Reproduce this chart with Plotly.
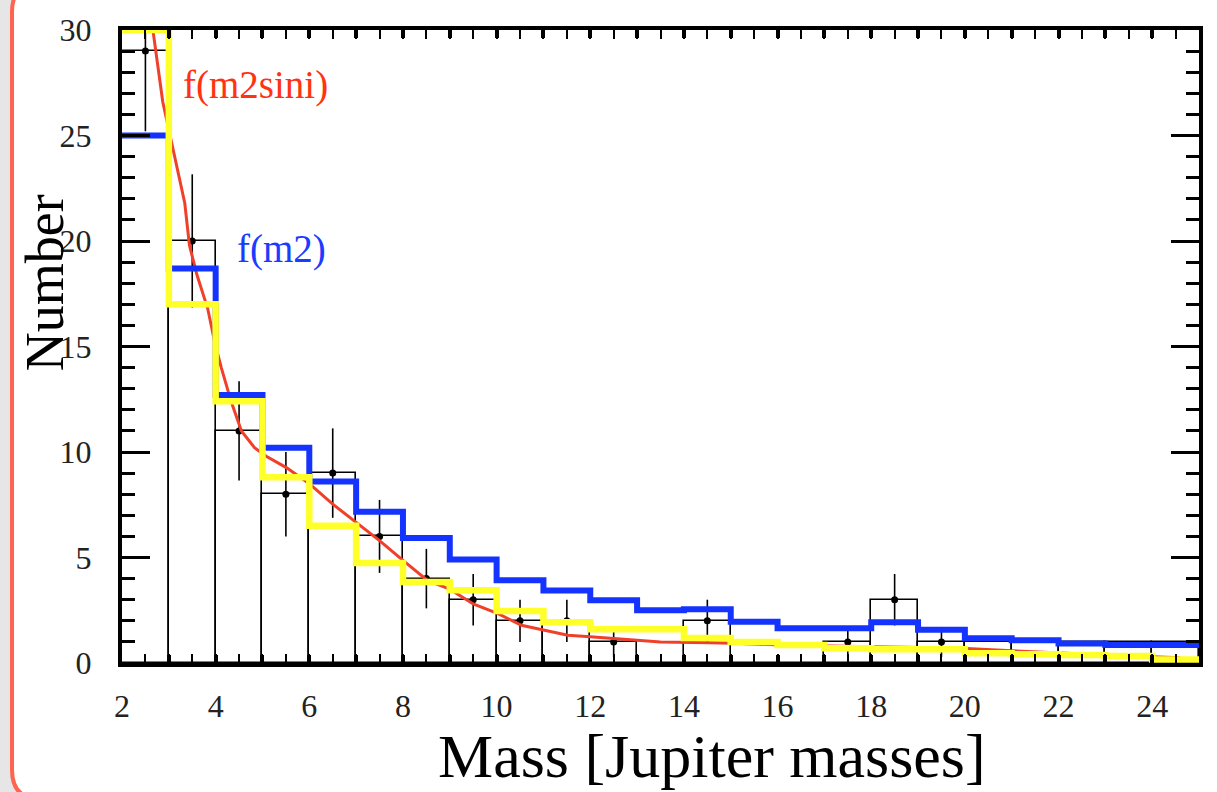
import plotly.graph_objects as go

# ---- data ----
bin_edges = list(range(2, 26))  # 2..25, bin width 1
data_counts = [29, 20, 11, 8, 9, 6, 4, 3, 2, 2, 1, 0, 2, 0, 0, 1, 3, 1, 1, 1, 1, 1, 1]
data_errors = [3.8, 3.16, 2.35, 2.0, 2.12, 1.73, 1.41, 1.22, 1.0, 1.0, 0.71, None, 1.0,
               None, None, 0.71, 1.22, 0.71, None, None, None, None, None]
f_m2 = [25.0, 18.7, 12.7, 10.2, 8.6, 7.17, 5.92, 4.9, 3.92, 3.44, 2.97, 2.5, 2.55,
        1.95, 1.65, 1.65, 1.93, 1.57, 1.17, 1.08, 0.93, 0.85, 0.85]
f_m2sini = [30.0, 17.0, 12.4, 8.8, 6.5, 4.74, 3.84, 3.45, 2.46, 1.93, 1.6, 1.6, 1.18,
            1.0, 0.85, 0.7, 0.65, 0.65, 0.46, 0.42, 0.38, 0.33, 0.17]
fit_x = [2.66, 2.87, 3.34, 3.44, 3.6, 3.83, 3.98, 4.12, 4.33, 4.55, 4.83, 5.08, 5.51, 6.0,
         6.5, 7.0, 7.5, 8.0, 8.53, 9.0, 9.5, 10.03, 10.53, 11.0, 11.52, 12.0, 12.52, 13.0,
         13.5, 14.55, 15.04, 16.05, 17.0, 18.0, 19.04, 20.04, 21.0, 22.0, 23.0, 24.0, 24.6]
fit_y = [30.0, 26.6, 21.8, 19.8, 18.4, 16.8, 15.2, 14.0, 12.4, 11.0, 10.2, 9.8, 9.26, 8.5,
         7.53, 6.67, 5.8, 4.86, 3.9, 3.5, 2.8, 2.34, 1.79, 1.56, 1.32, 1.24, 1.16, 1.08,
         1.0, 0.96, 0.94, 0.85, 0.8, 0.77, 0.74, 0.69, 0.58, 0.47, 0.38, 0.3, 0.25]
x_tick_vals = list(range(2, 26))
x_tick_text = [str(v) if v % 2 == 0 else "" for v in x_tick_vals]
y_tick_vals = [0, 5, 10, 15, 20, 25, 30]

centers = [e + 0.5 for e in bin_edges[:-1]]
FONT = "Liberation Serif"

fig = go.Figure()

# black data histogram (outlined boxes)
fig.add_trace(go.Bar(x=centers, y=data_counts, width=1.0,
                     marker=dict(color="rgba(0,0,0,0)", line=dict(color="black", width=1.6)),
                     showlegend=False))
# data points with error bars
ex = [c for c, e in zip(centers, data_errors) if e is not None]
ey = [v for v, e in zip(data_counts, data_errors) if e is not None]
ee = [e for e in data_errors if e is not None]
fig.add_trace(go.Scatter(x=ex, y=ey, mode="markers",
                         marker=dict(color="black", size=7),
                         error_y=dict(type="data", array=ee, width=0, thickness=1.6, color="black"),
                         showlegend=False))
# red fit curve
fig.add_trace(go.Scatter(x=fit_x, y=fit_y, mode="lines",
                         line=dict(color="#f0402a", width=3), showlegend=False))
# blue f(m2)
fig.add_trace(go.Scatter(x=bin_edges, y=f_m2 + [f_m2[-1]], mode="lines",
                         line=dict(color="#1433ff", width=6, shape="hv"), showlegend=False))
# yellow f(m2sini)
fig.add_trace(go.Scatter(x=bin_edges, y=f_m2sini + [f_m2sini[-1]], mode="lines",
                         line=dict(color="#ffff2a", width=6.5, shape="hv"), showlegend=False))

# geometry helpers for the rounded frame (layout decoration)
L, R, T, B = 122, 18, 28, 129
W, H = 1217, 792
pw, ph = W - L - R, H - T - B
def px(X):
    return (X - L) / pw
def py(Y):
    return (H - B - Y) / ph
x0, x1, yt, yb, r = 12, 1245, -20, 800, 30
path = (f"M {px(x0 + r)},{py(yt)} L {px(x1)},{py(yt)} L {px(x1)},{py(yb)} "
        f"L {px(x0 + r)},{py(yb)} Q {px(x0)},{py(yb)} {px(x0)},{py(yb - r)} "
        f"L {px(x0)},{py(yt + r)} Q {px(x0)},{py(yt)} {px(x0 + r)},{py(yt)} Z")

fig.update_layout(
    width=W, height=H,
    margin=dict(l=L, r=R, t=T, b=B),
    paper_bgcolor="#e6e6e6",
    plot_bgcolor="rgba(0,0,0,0)",
    bargap=0,
    font=dict(family=FONT, color="#222"),
    shapes=[dict(type="path", xref="paper", yref="paper", path=path,
                 fillcolor="white", line=dict(color="#ff6450", width=4), layer="below")],
    xaxis=dict(range=[2, 25], showline=True, linewidth=4, linecolor="black", mirror="ticks",
               ticks="inside", tickvals=x_tick_vals, ticktext=x_tick_text, ticklen=8,
               tickwidth=4, tickcolor="black", showgrid=False, zeroline=False,
               layer="above traces", tickfont=dict(size=32, family=FONT, color="#222"),
               ticklabelstandoff=12,
               minor=dict(ticks="inside", dtick=0.5, tick0=2, ticklen=9, tickwidth=1.5,
                          tickcolor="black", showgrid=False)),
    xaxis3=dict(overlaying="x", anchor="y", range=[2, 25], tickvals=[5, 10, 15, 20, 25],
                ticks="inside", ticklen=12, tickwidth=9, tickcolor="black", mirror="ticks",
                showticklabels=False, showline=False, showgrid=False, zeroline=False,
                layer="above traces"),
    yaxis=dict(range=[0, 30], showline=True, linewidth=4, linecolor="black", mirror="ticks",
               ticks="inside", tickvals=y_tick_vals, ticklen=28, tickwidth=2.5,
               tickcolor="black", showgrid=False, zeroline=False, layer="above traces",
               tickfont=dict(size=32, family=FONT, color="#222"), ticklabelstandoff=20,
               minor=dict(ticks="inside", dtick=1, tick0=0, ticklen=13, tickwidth=2.5,
                          tickcolor="black", showgrid=False)),
    annotations=[
        dict(text="f(m2sini)", x=3.27, y=27.4, xref="x", yref="y", xanchor="left",
             yanchor="middle", showarrow=False, font=dict(size=39, family=FONT, color="#ff3311")),
        dict(text="f(m2)", x=4.42, y=19.6, xref="x", yref="y", xanchor="left",
             yanchor="middle", showarrow=False, font=dict(size=39, family=FONT, color="#1a3cff")),
        dict(text="Mass [Jupiter masses]", x=px(712), y=py(792), xref="paper", yref="paper",
             xanchor="center", yanchor="bottom", showarrow=False,
             font=dict(size=62, family=FONT, color="black")),
        dict(text="Number", x=px(45), y=py(282), xref="paper", yref="paper", textangle=-90,
             xanchor="center", yanchor="middle", showarrow=False,
             font=dict(size=54, family=FONT, color="black")),
    ],
)

fig.write_html("out.html")
